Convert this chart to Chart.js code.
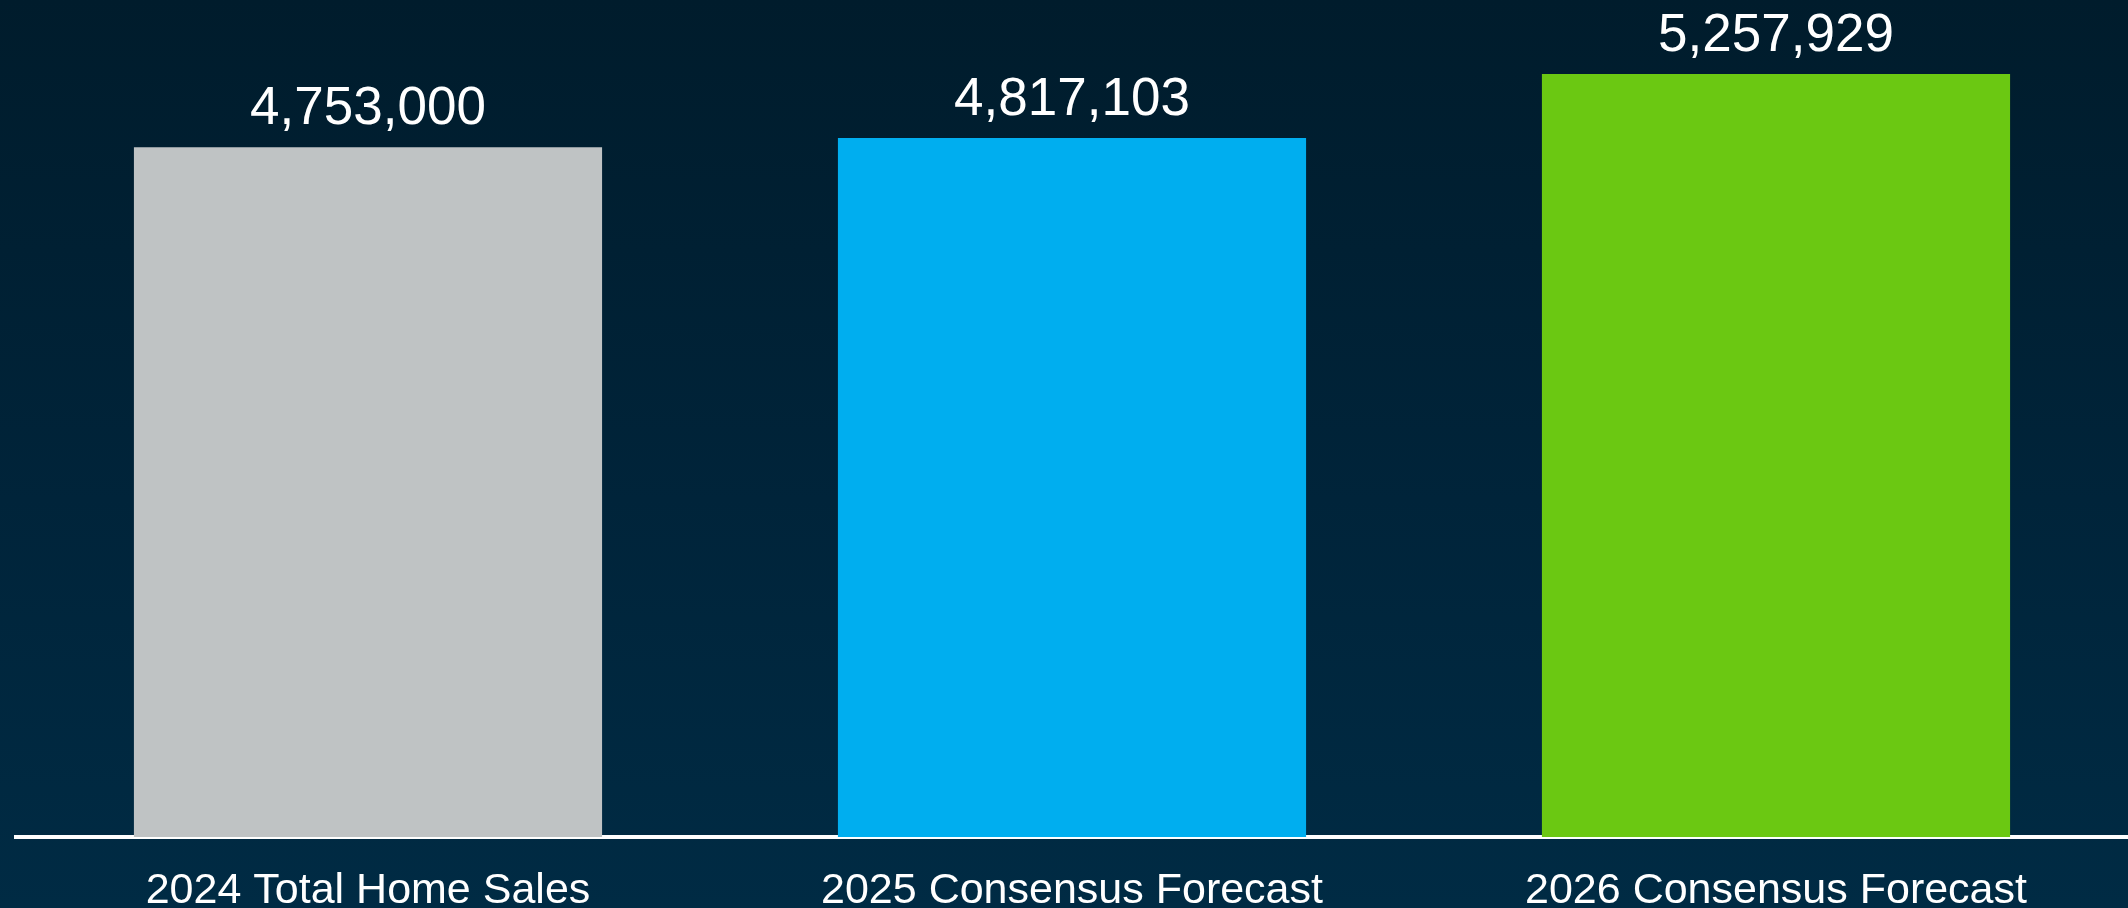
<!DOCTYPE html>
<html lang="en">
<head>
<meta charset="UTF-8">
<title>Home Sales Forecast</title>
<script src="https://cdn.jsdelivr.net/npm/chart.js"></script>
<style>
  html, body { margin: 0; padding: 0; }
  body {
    width: 2128px; height: 908px; overflow: hidden;
    background: linear-gradient(to bottom, #001c2c 0%, #00243a 55%, #002b44 100%);
  }
  #wrap { position: relative; width: 2128px; height: 908px; }
</style>
</head>
<body>
<div id="wrap"><canvas id="myChart"></canvas></div>

<script>
// data
const categories = ['2024 Total Home Sales', '2025 Consensus Forecast', '2026 Consensus Forecast'];
const sales = [4753000, 4817103, 5257929];
const barColors = ['#bfc3c4', '#00aeef', '#6bc812'];

// value labels above each bar
const valueLabels = {
    id: 'valueLabels',
    afterDatasetsDraw(chart) {
        const ctx = chart.ctx;
        const meta = chart.getDatasetMeta(0);
        ctx.save();
        ctx.fillStyle = '#ffffff';
        ctx.font = '53px "Liberation Sans", Arial, sans-serif';
        ctx.textAlign = 'center';
        ctx.textBaseline = 'alphabetic';
        meta.data.forEach((bar, i) => {
            ctx.fillText(sales[i].toLocaleString('en-US'), bar.x, bar.y - 23);
        });
        ctx.restore();
    }
};

const ctx = document.getElementById('myChart').getContext('2d');
new Chart(ctx, {
    type: 'bar',
    data: {
        labels: categories,
        datasets: [{
            data: sales,
            backgroundColor: barColors,
            borderWidth: 0,
            categoryPercentage: 1,
            barPercentage: 0.665
        }]
    },
    options: {
        responsive: true,
        maintainAspectRatio: false,
        animation: false,
        layout: { padding: { left: 16, right: 0, top: 0, bottom: 0 } },
        plugins: { legend: { display: false }, tooltip: { enabled: false } },
        scales: {
            x: {
                grid: { display: false, drawTicks: false },
                border: { display: true, color: '#ffffff', width: 4 },
                ticks: {
                    color: '#ffffff',
                    padding: 36,
                    maxRotation: 0,
                    font: { family: '"Liberation Sans", Arial, sans-serif', size: 43, lineHeight: 0.84 }
                },
                afterFit(scale) { scale.height = 71; }
            },
            y: {
                display: false,
                min: 0,
                max: 5768000
            }
        }
    },
    plugins: [valueLabels]
});
</script>
</body>
</html>
